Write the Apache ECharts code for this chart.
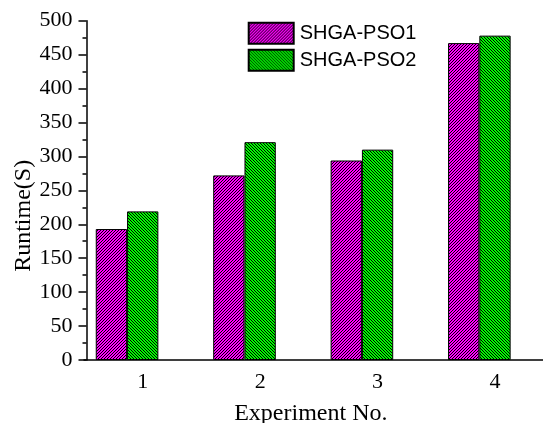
<!DOCTYPE html>
<html>
<head>
<meta charset="utf-8">
<script src="https://cdn.jsdelivr.net/npm/echarts@6/dist/echarts.min.js"></script>
<style>html,body{margin:0;padding:0;background:#fff;}#c{width:543px;height:423px;}</style>
</head>
<body>
<div id="c"></div>
<script>
const categories = ['1', '2', '3', '4'];
const seriesNames = ['SHGA-PSO1', 'SHGA-PSO2'];
const pso1 = [193, 272, 294, 467];
const pso2 = [219, 321, 310, 478];
const yTicks = { min: 0, max: 500, interval: 50 };

function hatch(bg, dir) {
  const n = 6;
  const c = document.createElement('canvas');
  c.width = n; c.height = n;
  const ctx = c.getContext('2d');
  const img = ctx.createImageData(n, n);
  const col = bg === 'm' ? [255, 0, 255] : [0, 255, 0];
  for (let y = 0; y < n; y++) for (let x = 0; x < n; x++) {
    const k = dir > 0 ? (x + y) : (x - y + n);
    const black = (k % 3) === 0;
    const i = (y * n + x) * 4;
    img.data[i] = black ? 0 : col[0];
    img.data[i + 1] = black ? 0 : col[1];
    img.data[i + 2] = black ? 0 : col[2];
    img.data[i + 3] = 255;
  }
  ctx.putImageData(img, 0, 0);
  return { image: c, repeat: 'repeat' };
}

const chart = echarts.init(document.getElementById('c'), null, { renderer: 'canvas' });
const serif = 'Liberation Serif';
const barW = 31.3;
chart.setOption({
  animation: false,
  backgroundColor: '#fff',
  grid: { left: 84, right: -10.7, top: 20.7, bottom: 63, containLabel: false, outerBoundsMode: 'none' },
  legend: {
    data: seriesNames,
    orient: 'vertical',
    left: 247.7, top: 21.7,
    icon: 'rect',
    itemWidth: 45, itemHeight: 21, itemGap: 4,
    padding: 0,
    textStyle: { fontFamily: 'Liberation Sans', fontSize: 20, color: '#000', padding: [0, 0, 0, 1] }
  },
  xAxis: [{
    type: 'category',
    data: categories,
    name: 'Experiment No.',
    nameLocation: 'middle',
    nameGap: 42,
    nameMoveOverlap: false,
    nameTextStyle: { fontFamily: serif, fontSize: 24, color: '#000', padding: [0, 16, 0, 0] },
    axisLine: { lineStyle: { color: '#000', width: 1.5 } },
    axisTick: { alignWithLabel: true, length: 8, lineStyle: { color: '#000', width: 1.5 } },
    axisLabel: { fontFamily: serif, fontSize: 22, color: '#000', margin: 11 },
    splitLine: { show: false }
  }, {
    type: 'category',
    data: categories,
    position: 'bottom',
    axisLine: { show: false },
    axisTick: { length: 4, lineStyle: { color: '#000', width: 1.5 } },
    axisLabel: { show: false },
    splitLine: { show: false }
  }],
  yAxis: {
    type: 'value',
    min: yTicks.min, max: yTicks.max, interval: yTicks.interval,
    offset: -2.5,
    name: 'Runtime(S)',
    nameLocation: 'middle',
    nameGap: 51,
    nameMoveOverlap: false,
    nameTextStyle: { fontFamily: serif, fontSize: 24, color: '#000', padding: [0, 51, 0, 0] },
    axisLine: { show: true, lineStyle: { color: '#000', width: 1.5 } },
    axisTick: { show: true, length: 8, lineStyle: { color: '#000', width: 1.5 } },
    minorTick: { show: true, splitNumber: 2, length: 4, lineStyle: { color: '#000', width: 1.5 } },
    axisLabel: { fontFamily: serif, fontSize: 22, color: '#000', margin: 14 },
    splitLine: { show: false }
  },
  series: [{
    name: seriesNames[0], type: 'bar', data: pso1, barWidth: barW, barGap: 0,
    itemStyle: { color: hatch('m', 1), borderColor: '#000', borderWidth: 1 }
  }, {
    name: seriesNames[1], type: 'bar', data: pso2, barWidth: barW, barGap: 0,
    itemStyle: { color: hatch('g', -1), borderColor: '#000', borderWidth: 1 }
  }, {
    name: 'spacer', type: 'bar', data: [], barWidth: barW, barGap: 0
  }]
});
</script>
</body>
</html>
